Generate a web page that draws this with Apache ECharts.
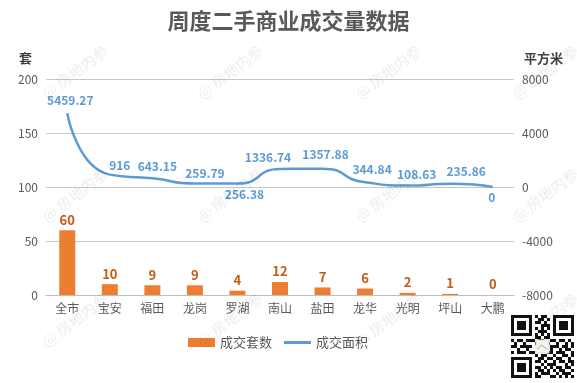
<!DOCTYPE html>
<html><head><meta charset="utf-8">
<script src="https://cdn.jsdelivr.net/npm/echarts@6/dist/echarts.min.js"></script>
<style>html,body{margin:0;padding:0;background:#fff}#c{width:577px;height:383px}</style>
</head><body><div id="c"></div>
<script>
var categories = ['全市','宝安','福田','龙岗','罗湖','南山','盐田','龙华','光明','坪山','大鹏'];
var countValues = [60,10,9,9,4,12,7,6,2,1,0];
var areaValues = [5459.27,916,643.15,259.79,256.38,1336.74,1357.88,344.84,108.63,235.86,0];
var titleText = '周度二手商业成交量数据';
var watermarkText = '@ 房地内参';
// label placement (styling only): pixel offset of each area label from its point
var areaLabelOffsets = [[3,-13],[10,-9],[5,-12],[10,-10],[7,11],[-12,-12],[3,-14],[7,-13],[9,-11],[16,-12],[-1,10]];
var qrRows = [
"111111101011001111111",
"100000100110101000001",
"101110101101001011101",
"101110100011101011101",
"101110101010101011101",
"100000100111001000001",
"111111101010101111111",
"000000001101100000000",
"101101110110011011010",
"010010001011100100101",
"110111100000011101101",
"001001000000010010110",
"101110110000110111001",
"000000001011001001101",
"111111100110110110010",
"100000101101001011011",
"101110100010111000101",
"101110101101010110110",
"101110100110101011001",
"100000101011100101110",
"111111101100011010101"];

var FONT = '"Noto Sans CJK SC","Microsoft YaHei",sans-serif';
var graphics = [];
[72,195,320].forEach(function(y){
  [75,230,388,545].forEach(function(x){
    graphics.push({type:'text', x:x, y:y, rotation:0.65, z:100,
      style:{text:watermarkText, fill:'rgba(0,0,0,0.08)', font:'15px '+FONT, textAlign:'center', textVerticalAlign:'middle'}});
  });
});
var qx=511, qy=315, m=3;
var qrChildren=[{type:'rect', shape:{x:-2,y:-2,width:21*m+4,height:21*m+4}, style:{fill:'#fff'}}];
qrRows.forEach(function(r,i){
  for(var j=0;j<r.length;j++){ if(r[j]==='1') qrChildren.push({type:'rect', shape:{x:j*m,y:i*m,width:m,height:m}, style:{fill:'#111'}}); }
});
qrChildren.push({type:'rect', shape:{x:8*m+1,y:8*m+1,width:5*m-2,height:5*m-2}, style:{fill:'#f3f3f3', stroke:'#ddd'}});
qrChildren.push({type:'polyline', shape:{points:[[8*m+3,12*m-2],[10*m,9*m+3],[13*m-3,12*m-2]]}, style:{stroke:'#d9a35a', fill:null, lineWidth:1}});
graphics.push({type:'group', x:qx, y:qy, children:qrChildren});

var chart = echarts.init(document.getElementById('c'));
chart.setOption({
  animation:false,
  textStyle:{fontFamily:FONT},
  title:{text:titleText, left:'center', top:5, textStyle:{fontSize:22, fontWeight:'bold', color:'#595959', fontFamily:FONT}},
  grid:{left:46, right:63, top:79, bottom:88},
  legend:{top:331, left:183, itemWidth:27, itemHeight:9, itemGap:12,
    textStyle:{fontSize:13, color:'#595959', fontFamily:FONT},
    data:[{name:'成交套数', icon:'rect'}, {name:'成交面积', icon:'path://M0,0 L27,0 L27,3 L0,3 Z'}]},
  xAxis:{type:'category', data:categories,
    axisLine:{lineStyle:{color:'#BFBFBF'}}, axisTick:{show:false},
    axisLabel:{color:'#595959', fontSize:12, margin:7, fontFamily:FONT}},
  yAxis:[
    {type:'value', min:0, max:200, interval:50, name:'套', nameLocation:'end', nameGap:14,
      nameTextStyle:{color:'#404040', fontSize:13, fontWeight:'bold', align:'right', padding:[0,14,0,0]},
      axisLine:{show:false}, axisTick:{show:false},
      axisLabel:{color:'#595959', fontSize:12, margin:8},
      splitLine:{lineStyle:{color:'#C8C8C8'}}},
    {type:'value', min:-8000, max:8000, interval:4000, name:'平方米', nameLocation:'end', nameGap:14,
      nameTextStyle:{color:'#404040', fontSize:13, fontWeight:'bold', align:'left', padding:[0,0,0,10]},
      axisLine:{show:false}, axisTick:{show:false},
      axisLabel:{color:'#595959', fontSize:12, margin:8, formatter:function(v){return String(v);}},
      splitLine:{show:false}}
  ],
  series:[
    {name:'成交套数', type:'bar', data:countValues, barWidth:16, itemStyle:{color:'#ED7D31'},
      label:{show:true, position:'top', distance:4, color:'#C55A11', fontWeight:'bold', fontSize:13}},
    {name:'成交面积', type:'line', yAxisIndex:1, smooth:0.6, showSymbol:true, symbol:'circle', symbolSize:0,
      data:areaValues.map(function(v,i){
        return {value:v, label:{offset:areaLabelOffsets[i]}};
      }),
      lineStyle:{color:'#5B9BD5', width:2.5}, itemStyle:{color:'#5B9BD5'},
      label:{show:true, position:'inside', color:'#5B9BD5', fontWeight:'bold', fontSize:12}}
  ],
  graphic:graphics
});
</script></body></html>
